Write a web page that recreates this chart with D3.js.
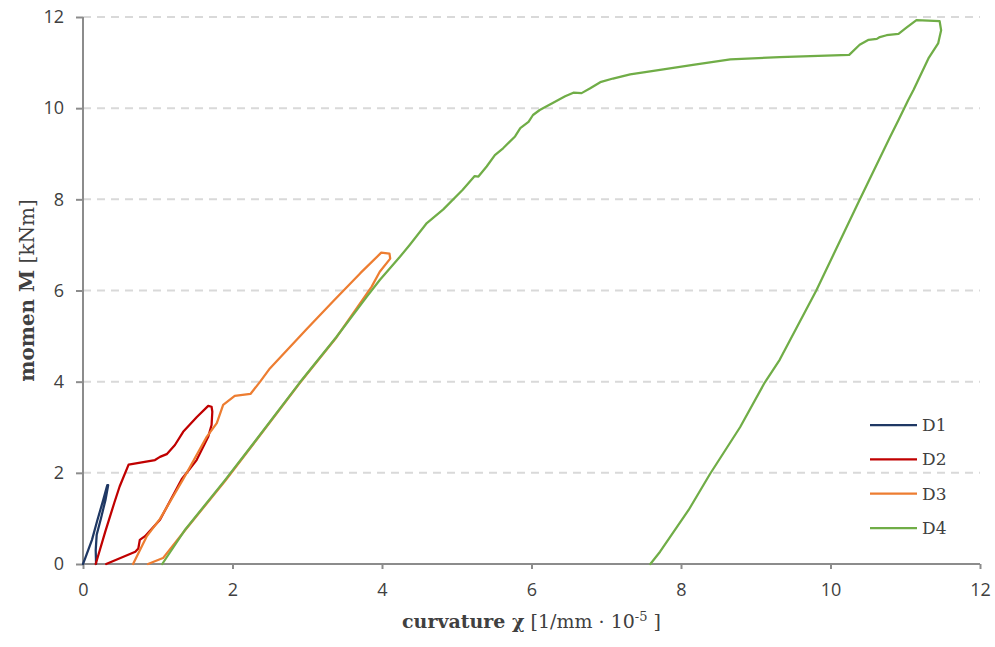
<!DOCTYPE html>
<html>
<head>
<meta charset="utf-8">
<script src="https://cdn.jsdelivr.net/npm/d3@7"></script>
<style>
  html, body { margin: 0; padding: 0; background: #fff; }
  svg { display: block; }
</style>
</head>
<body>
<svg id="chart" width="995" height="647"></svg>
<script>
// Moment–curvature curves of the four specimens: [curvature χ, moment M]
const seriesNames = ["D1", "D2", "D3", "D4"];
const seriesColors = ["#1f3864", "#c00000", "#ed7d31", "#70ad47"];

const curveD1 = [
  [0, 0], [0.03, 0.13], [0.12, 0.53], [0.19, 0.95], [0.27, 1.40], [0.325, 1.73],
  [0.337, 1.73], [0.30, 1.40], [0.24, 1.00], [0.183, 0.64], [0.17, 0.30], [0.175, 0]
];

const curveD2 = [
  [0.17, 0], [0.30, 0.72], [0.42, 1.35], [0.49, 1.70], [0.61, 2.18], [0.963, 2.28],
  [1.03, 2.35], [1.12, 2.41], [1.23, 2.61], [1.34, 2.90], [1.52, 3.22], [1.675, 3.47],
  [1.72, 3.45], [1.73, 3.34], [1.72, 3.05], [1.675, 2.79], [1.52, 2.28], [1.32, 1.86],
  [1.03, 0.97], [0.83, 0.61], [0.76, 0.53], [0.74, 0.34], [0.70, 0.27], [0.31, 0]
];

const curveD3 = [
  [0.67, 0], [0.85, 0.60], [1.03, 0.99], [1.34, 1.86], [1.655, 2.79], [1.79, 3.09],
  [1.875, 3.49], [2.03, 3.69], [2.24, 3.73], [2.37, 4.00], [2.50, 4.29], [2.99, 5.15],
  [3.35, 5.77], [3.71, 6.38], [3.99, 6.83], [4.10, 6.81], [4.11, 6.70], [3.97, 6.41],
  [3.86, 6.08], [3.39, 4.97], [2.90, 3.97], [2.32, 2.72], [1.90, 1.82], [1.36, 0.73],
  [1.07, 0.13], [0.87, 0]
];

const curveD4 = [
  [1.06, 0], [1.36, 0.74], [1.90, 1.84], [2.32, 2.73], [2.90, 3.98], [3.39, 4.98],
  [3.80, 5.87], [3.97, 6.23], [4.24, 6.74], [4.37, 7.00], [4.60, 7.48], [4.82, 7.78],
  [5.08, 8.21], [5.24, 8.51], [5.29, 8.50], [5.40, 8.72], [5.51, 8.97], [5.62, 9.12],
  [5.78, 9.38], [5.85, 9.56], [5.96, 9.70], [6.02, 9.85], [6.11, 9.96], [6.29, 10.12],
  [6.45, 10.26], [6.56, 10.34], [6.67, 10.33], [6.78, 10.43], [6.92, 10.57], [7.09, 10.65],
  [7.32, 10.74], [7.72, 10.84], [8.16, 10.95], [8.66, 11.07], [9.32, 11.12], [10.25, 11.17],
  [10.39, 11.39], [10.51, 11.50], [10.62, 11.52], [10.66, 11.56], [10.75, 11.60], [10.91, 11.63],
  [11.02, 11.77], [11.15, 11.93], [11.46, 11.91], [11.48, 11.71], [11.44, 11.42], [11.31, 11.09],
  [11.11, 10.40], [11.04, 10.18], [10.91, 9.74], [10.80, 9.38], [10.39, 7.99], [9.81, 6.00],
  [9.32, 4.48], [9.12, 3.98], [8.79, 3.00], [8.39, 1.98], [8.10, 1.18], [7.72, 0.27], [7.59, 0]
];

const seriesData = [curveD1, curveD2, curveD3, curveD4];
const xTicks = [0, 2, 4, 6, 8, 10, 12];
const yTicks = [0, 2, 4, 6, 8, 10, 12];

const svg = d3.select("#chart");
const margin = { left: 83, right: 15, top: 17, bottom: 83 };
const W = 995, H = 647;

const x = d3.scaleLinear().domain([0, 12]).range([margin.left, W - margin.right]);
const y = d3.scaleLinear().domain([0, 12]).range([H - margin.bottom, margin.top]);

const axisColor = "#8c8c8c";
const tickFont = "'Open Sans', 'Liberation Sans', sans-serif";
const serif = "'DejaVu Serif', 'Liberation Serif', serif";

// horizontal dashed gridlines
svg.append("g")
  .selectAll("line")
  .data(yTicks.filter(d => d > 0))
  .join("line")
  .attr("x1", x(0)).attr("x2", x(12))
  .attr("y1", d => y(d)).attr("y2", d => y(d))
  .attr("stroke", "#d9d9d9")
  .attr("stroke-width", 2)
  .attr("stroke-dasharray", "8,6");

// axes
const xAxis = svg.append("g")
  .attr("transform", `translate(0,${y(0)})`)
  .call(d3.axisBottom(x).tickValues(xTicks).tickSize(5).tickPadding(14).tickFormat(d3.format("d")));
const yAxis = svg.append("g")
  .attr("transform", `translate(${x(0)},0)`)
  .call(d3.axisLeft(y).tickValues(yTicks).tickSize(7).tickPadding(12).tickFormat(d3.format("d")));

[xAxis, yAxis].forEach(g => {
  g.select(".domain").attr("stroke", axisColor).attr("stroke-width", 2);
  g.selectAll(".tick line").attr("stroke", axisColor).attr("stroke-width", 2);
  g.selectAll(".tick text")
    .attr("fill", "#404040")
    .style("font-family", tickFont)
    .style("font-size", "18px");
});
xAxis.select(".domain").attr("d", `M${x(0)},0H${x(12)}`);
yAxis.select(".domain").attr("d", `M0,${y(0)}V${y(12)}`);

// curves
const line = d3.line().x(d => x(d[0])).y(d => y(d[1]));
svg.append("g")
  .selectAll("path")
  .data(seriesData)
  .join("path")
  .attr("d", line)
  .attr("fill", "none")
  .attr("stroke", (d, i) => seriesColors[i])
  .attr("stroke-width", 2.25)
  .attr("stroke-linejoin", "round")
  .attr("stroke-linecap", "round");

// axis titles
const xTitle = svg.append("text")
  .attr("x", (x(0) + x(12)) / 2)
  .attr("y", 628)
  .attr("text-anchor", "middle")
  .style("font-family", serif)
  .style("font-size", "19px")
  .attr("fill", "#404040");
xTitle.append("tspan").attr("font-weight", "bold").text("curvature χ");
xTitle.append("tspan").text(" [1/mm · 10");
xTitle.append("tspan").attr("dy", -7).style("font-size", "13px").text("-5");
xTitle.append("tspan").attr("dy", 7).text(" ]");

const yTitle = svg.append("text")
  .attr("transform", `translate(34,${(y(0) + y(12)) / 2}) rotate(-90)`)
  .attr("text-anchor", "middle")
  .style("font-family", serif)
  .style("font-size", "20px")
  .attr("fill", "#404040");
yTitle.append("tspan").attr("font-weight", "bold").text("momen M");
yTitle.append("tspan").text(" [kNm]");

// legend
const legend = svg.append("g");
const legendY = d3.scaleLinear().domain([0, 3]).range([425, 528]);
seriesNames.forEach((name, i) => {
  const g = legend.append("g").attr("transform", `translate(870,${legendY(i)})`);
  g.append("line").attr("x1", 0).attr("x2", 47).attr("y1", 0).attr("y2", 0)
    .attr("stroke", seriesColors[i]).attr("stroke-width", 2.25);
  g.append("text").attr("x", 52).attr("y", 6)
    .style("font-family", serif).style("font-size", "17px")
    .attr("fill", "#404040").text(name);
});
</script>
</body>
</html>
